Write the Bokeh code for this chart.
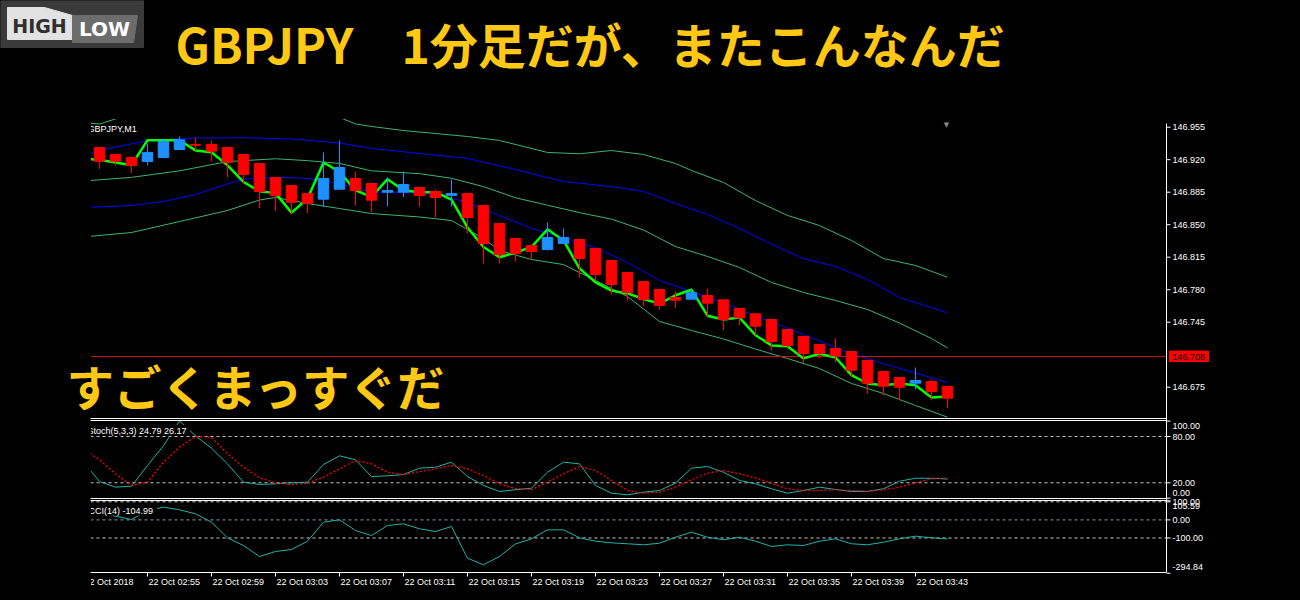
from bokeh.plotting import figure
from bokeh.models import Range1d, ColumnDataSource
from bokeh.core.properties import value
from bokeh.embed import file_html
from bokeh.resources import INLINE

# ------------------------------------------------------------------ data
SYMBOL = "GBPJPY,M1"
TITLE = "GBPJPY\u30001分足だが、またこんなんだ"
CAPTION = "すごくまっすぐだ"

BARS = list(range(54))          # 1-minute bars, 22 Oct 02:52 ... 03:45
IND_X = list(range(-1, 54))     # indicator points (first one lies just off the left edge)

OPEN = [146.9331, 146.9256, 146.9224, 146.9181, 146.9224, 146.9310, 146.9364, 146.9364, 146.9331, 146.9256,
        146.9159, 146.9008, 146.8922, 146.8836, 146.8775, 146.8882, 146.8998, 146.8944, 146.8850, 146.8850,
        146.8901, 146.8858, 146.8815, 146.8836, 146.8707, 146.8513, 146.8351, 146.8276, 146.8233, 146.8298,
        146.8341, 146.8244, 146.8115, 146.7985, 146.7888, 146.7802, 146.7716, 146.7698, 146.7738, 146.7691,
        146.7598, 146.7540, 146.7479, 146.7371, 146.7296, 146.7210, 146.7167, 146.7135, 146.7038, 146.6919,
        146.6855, 146.6793, 146.6811, 146.6758]
HIGH = [146.9331, 146.9256, 146.9224, 146.9371, 146.9425, 146.9450, 146.9439, 146.9407, 146.9331, 146.9256,
        146.9159, 146.9008, 146.8922, 146.8836, 146.9278, 146.9407, 146.9073, 146.8944, 146.9012, 146.9073,
        146.8901, 146.8879, 146.8987, 146.8836, 146.8707, 146.8513, 146.8351, 146.8276, 146.8524, 146.8459,
        146.8341, 146.8244, 146.8115, 146.7985, 146.7888, 146.7802, 146.7781, 146.7813, 146.7813, 146.7691,
        146.7598, 146.7540, 146.7479, 146.7371, 146.7296, 146.7210, 146.7278, 146.7135, 146.7038, 146.6919,
        146.6855, 146.6962, 146.6833, 146.6758]
LOW = [146.9102, 146.9138, 146.9055, 146.9138, 146.9224, 146.9310, 146.9296, 146.9181, 146.9012, 146.8947,
       146.8678, 146.8645, 146.8610, 146.8624, 146.8689, 146.8882, 146.8707, 146.8635, 146.8696, 146.8796,
       146.8696, 146.8578, 146.8696, 146.8405, 146.8082, 146.8082, 146.8104, 146.8125, 146.8222, 146.8298,
       146.7931, 146.7899, 146.7748, 146.7684, 146.7619, 146.7587, 146.7601, 146.7698, 146.7511, 146.7364,
       146.7415, 146.7307, 146.7145, 146.7164, 146.7009, 146.7062, 146.7019, 146.6858, 146.6679, 146.6661,
       146.6607, 146.6725, 146.6610, 146.6524]
CLOSE = [146.9184, 146.9184, 146.9138, 146.9278, 146.9396, 146.9414, 146.9356, 146.9292, 146.9173, 146.9041,
         146.8858, 146.8815, 146.8742, 146.8732, 146.8998, 146.9116, 146.8868, 146.8764, 146.8868, 146.8933,
         146.8815, 146.8793, 146.8836, 146.8578, 146.8298, 146.8179, 146.8190, 146.8211, 146.8362, 146.8362,
         146.8136, 146.7964, 146.7856, 146.7770, 146.7695, 146.7630, 146.7687, 146.7767, 146.7655, 146.7479,
         146.7497, 146.7407, 146.7242, 146.7199, 146.7113, 146.7113, 146.7088, 146.6933, 146.6793, 146.6761,
         146.6750, 146.6822, 146.6704, 146.6632]

# fast lime line (per bar, IND_X)
LIME = [146.921, 146.920, 146.917, 146.914, 146.941, 146.941, 146.941, 146.930, 146.928, 146.914,
        146.896, 146.886, 146.884, 146.863, 146.878, 146.917, 146.907, 146.887, 146.880, 146.899,
        146.887, 146.885, 146.885, 146.877, 146.847, 146.826, 146.815, 146.820, 146.826, 146.845,
        146.833, 146.803, 146.788, 146.779, 146.776, 146.770, 146.765, 146.774, 146.780, 146.752,
        146.748, 146.750, 146.731, 146.720, 146.719, 146.706, 146.711, 146.707, 146.688, 146.679,
        146.677, 146.679, 146.677, 146.664, 146.665]

# band lines, read at selected bars
G1_X = [-1, 0, 3, 8, 13, 15, 16, 17, 19, 21, 23, 25, 28, 30, 32, 34, 36, 37, 39, 41, 43, 45, 47, 49, 51, 53]
G1 = [146.9600, 146.9584, 146.9750, 146.9830, 146.9760, 146.9655, 146.9585, 146.9558, 146.9514, 146.9482,
      146.9450, 146.9407, 146.9278, 146.9264, 146.9299, 146.9256, 146.9159, 146.9084, 146.8955, 146.8760,
      146.8600, 146.8491, 146.8330, 146.8136, 146.8061, 146.7935]
BU_X = [-1, 1, 3, 6, 9, 12, 15, 17, 20, 23, 26, 29, 32, 34, 36, 38, 40, 42, 44, 46, 48, 50, 52, 53]
BU = [146.9256, 146.9335, 146.9407, 146.9434, 146.9436, 146.9423, 146.9380, 146.9321, 146.9267, 146.9213,
      146.9094, 146.8965, 146.8911, 146.8858, 146.8728, 146.8610, 146.8460, 146.8290, 146.8135, 146.8050,
      146.7910, 146.7716, 146.7608, 146.7551]
G2_X = [-1, 2, 5, 8, 11, 13, 15, 17, 20, 22, 24, 26, 28, 30, 32, 34, 36, 38, 40, 42, 44, 46, 48, 50, 52, 53]
G2 = [146.8970, 146.9010, 146.9080, 146.9180, 146.9210, 146.9190, 146.9160, 146.9080, 146.9050, 146.9000,
      146.8910, 146.8790, 146.8710, 146.8630, 146.8560, 146.8443, 146.8265, 146.8158, 146.8039, 146.7878,
      146.7770, 146.7684, 146.7587, 146.7441, 146.7274, 146.7174]
BM_X = [-1, 2, 4, 6, 8, 9, 11, 13, 15, 17, 19, 21, 23, 25, 27, 29, 31, 33, 35, 37, 39, 41, 43, 45, 47, 49, 51, 53]
BM = [146.8685, 146.8707, 146.8750, 146.8825, 146.8940, 146.8990, 146.9010, 146.9000, 146.8940, 146.8850,
      146.8847, 146.8825, 146.8740, 146.8600, 146.8460, 146.8360, 146.8254, 146.8093, 146.7900, 146.7780,
      146.7660, 146.7520, 146.7388, 146.7248, 146.7113, 146.7002, 146.6903, 146.6800]
G3_X = [-1, 2, 5, 8, 10, 11, 13, 15, 17, 20, 22, 24, 25, 27, 29, 31, 33, 35, 37, 39, 41, 43, 45, 47, 49, 51, 53]
G3 = [146.8368, 146.8416, 146.8534, 146.8653, 146.8766, 146.8793, 146.8728, 146.8674, 146.8620, 146.8583,
      146.8545, 146.8351, 146.8222, 146.8125, 146.8071, 146.7899, 146.7727, 146.7458, 146.7361, 146.7269,
      146.7161, 146.7059, 146.6951, 146.6790, 146.6682, 146.6553, 146.6427]

STOCH_K = [47, 21.7, 14.3, 15.6, 42.4, 68, 100, 81, 64.9, 44.6, 20.8, 17.8, 18.7, 20, 20.8, 43.7, 55, 49.8,
           28.1, 29, 30.7, 38.9, 40.2, 46.7, 28.1, 16.5, 8.7, 11, 13, 33.7, 46.7, 44.6, 16.5, 6.5, 4.4, 7.8,
           10, 19.5, 38.9, 41.1, 33.7, 23, 18.7, 12.2, 6.5, 10, 14.3, 11.3, 8.7, 8.7, 12.2, 22, 25.9, 25.9, 24.79]
STOCH_D = [64, 49.8, 31.6, 16.5, 20.8, 46.7, 66.1, 80, 79.1, 57.6, 40.2, 26.5, 20, 17.8, 19.5, 27.2, 38.1,
           48.9, 44.6, 33.7, 30.7, 34.6, 38.1, 42.4, 38.1, 29.4, 18.7, 12.5, 11.3, 20.8, 31.6, 41.1, 35.9, 23,
           10, 6.5, 7.8, 14.3, 23.9, 32.4, 35.9, 31.6, 26.5, 19.5, 12.2, 10, 10, 10.9, 10, 9.1, 10.9, 14.3, 20,
           25.2, 26.17]
CCI = [70, 45, 20.5, 2.2, 52, 70.2, 55.9, 33.7, -12.7, -99, -141.6, -202.4, -174.8, -163.7, -117.8, -12.7,
       0.6, -58.6, -86.3, -31, -21.6, -49.2, -64.2, -36.5, -211.8, -248.3, -202.4, -133, -104.7, -55, -55,
       -99, -117.8, -126.8, -132, -137.7, -128.9, -95.7, -68, -95.7, -110, -95.7, -117.8, -147, -137.7,
       -141.6, -117.8, -104.5, -132, -137.7, -123.3, -104.5, -90, -99, -104.99]

TICK_BARS = [3, 7, 11, 15, 19, 23, 27, 31, 35, 39, 43, 47, 51]
TICK_TEXT = ["22 Oct 02:55", "22 Oct 02:59", "22 Oct 03:03", "22 Oct 03:07", "22 Oct 03:11",
             "22 Oct 03:15", "22 Oct 03:19", "22 Oct 03:23", "22 Oct 03:27", "22 Oct 03:31",
             "22 Oct 03:35", "22 Oct 03:39", "22 Oct 03:43"]
DATE_TEXT = "22 Oct 2018"

PRICE_TICKS = [146.675, 146.745, 146.780, 146.815, 146.850, 146.885, 146.920, 146.955]
PRICE_LINE = 146.708
STOCH_LEVELS = [80, 20]
STOCH_TICKS = [0, 20, 80, 100]
STOCH_TICK_TEXT = ["0.00", "20.00", "80.00", "100.00"]
CCI_LEVELS = [100, 0, -100]
CCI_TICKS = [105.59, 100, 0, -100, -294.84]
CCI_TICK_TEXT = ["105.59", "100.00", "0.00", "-100.00", "-294.84"]
STOCH_LAST = (24.79, 26.17)
CCI_LAST = -104.99

# ------------------------------------------------------------------ layout / style (pixels)
BG = "#000000"
BULL = "#1E90FF"
BEAR = "#FF0000"
LIME_C = "#00FF00"
BAND_G = "#3CB371"
BAND_B = "#0000FF"
IND_C = "#20B2AA"
YELLOW = "#FFC814"
AX_FONT = value("Liberation Sans")
JP_FONT = value("Noto Sans CJK JP")

W, H = 1300, 600
BAR0_PX, BAR_PX = 99.0, 16.0                 # centre of first bar, pixels per bar
PANE_L, AXIS_X = 90, 1166
PRICE_TOP, PRICE_BOT = 118, 418
STOCH_TOP, STOCH_BOT = 420, 498
CCI_TOP, TIME_Y = 500, 572
PRICE_REF, PRICE_REF_PX, PRICE_PPU = 146.955, 126.7, 928.6
STOCH_ZERO_PX, STOCH_PPU = 497.7, 0.771
CCI_ZERO_PX, CCI_PPU = 519.4, 0.1808
# label anchors for the pane-edge labels (MT4 pulls them inside the pane)
STOCH_LABEL_Y = [7.0, 20, 80, 94.0]
CCI_LABEL_Y = [78.0, 101.5, 0, -100, -261.5]

x_range = Range1d(-BAR0_PX / BAR_PX, (W - BAR0_PX) / BAR_PX)
y_price = Range1d(PRICE_REF - (H - PRICE_REF_PX) / PRICE_PPU, PRICE_REF + PRICE_REF_PX / PRICE_PPU)

p = figure(width=W, height=H, x_range=x_range, y_range=y_price,
           toolbar_location=None, output_backend="svg",
           x_axis_location=None, y_axis_location=None,
           background_fill_color=BG, border_fill_color=BG, outline_line_color=None, min_border=0)
p.grid.visible = False
p.extra_x_ranges = {"px": Range1d(0, W)}
p.extra_y_ranges = {
    "px": Range1d(H, 0),
    "stoch": Range1d(-(H - STOCH_ZERO_PX) / STOCH_PPU, STOCH_ZERO_PX / STOCH_PPU),
    "cci": Range1d(-(H - CCI_ZERO_PX) / CCI_PPU, CCI_ZERO_PX / CCI_PPU),
}
PX = dict(x_range_name="px", y_range_name="px")

# ------------------------------------------------------------------ price pane
for xs, ys, c in [(G1_X, G1, BAND_G), (BU_X, BU, BAND_B), (G2_X, G2, BAND_G),
                  (BM_X, BM, BAND_B), (G3_X, G3, BAND_G)]:
    p.line(xs, ys, line_color=c, line_width=1)
p.segment(x0=[PANE_L], x1=[AXIS_X], y0=[PRICE_LINE], y1=[PRICE_LINE], x_range_name="px",
          line_color="#D01414", line_width=1)
p.line(IND_X, LIME, line_color=LIME_C, line_width=2.5)

src = ColumnDataSource(dict(
    x=BARS, h=HIGH, l=LOW,
    top=[max(o, c) for o, c in zip(OPEN, CLOSE)],
    bot=[min(o, c) for o, c in zip(OPEN, CLOSE)],
    color=[BULL if c > o else BEAR for o, c in zip(OPEN, CLOSE)]))
p.segment(x0="x", y0="l", x1="x", y1="h", line_color="color", line_width=1, source=src)
p.vbar(x="x", width=0.66, top="top", bottom="bot", fill_color="color", line_color="color",
       line_width=1, source=src)

# ------------------------------------------------------------------ stochastic pane
p.segment(x0=[PANE_L] * 2, x1=[AXIS_X] * 2, y0=STOCH_LEVELS, y1=STOCH_LEVELS,
          x_range_name="px", y_range_name="stoch", line_color="#C8C8C8", line_width=1, line_dash="3 3")
p.line(IND_X, STOCH_K, y_range_name="stoch", line_color=IND_C, line_width=1)
p.line(IND_X, STOCH_D, y_range_name="stoch", line_color="#FF0000", line_width=1.3, line_dash="2 2")

# ------------------------------------------------------------------ CCI pane
p.segment(x0=[PANE_L] * 3, x1=[AXIS_X] * 3, y0=CCI_LEVELS, y1=CCI_LEVELS,
          x_range_name="px", y_range_name="cci",
          line_color=["#C8C8C8", "#8C96AA", "#C8C8C8"], line_width=1, line_dash="3 3")
p.line(IND_X, CCI, y_range_name="cci", line_color=IND_C, line_width=1)

# indicator captions (drawn on a black box, clipped at the pane edge like MT4)
p.quad(left=[87, 87], right=[189, 156], top=[425, 505.5], bottom=[434.5, 514.5], color=BG, **PX)
p.text(x=[87, 88, 87], y=[430, 510, 128.5],
       text=["Stoch(5,3,3) %.2f %.2f" % STOCH_LAST, "CCI(14) %.2f" % CCI_LAST, SYMBOL],
       text_font=AX_FONT, text_font_size="9px", text_color="white",
       text_align="left", text_baseline="middle", **PX)
p.text(x=[84], y=[581.5], text=[DATE_TEXT], text_font=AX_FONT, text_font_size="9px",
       text_color="white", text_align="left", text_baseline="middle", **PX)

# masks outside the chart window
p.quad(left=[0, 0], right=[PANE_L, W], top=[PRICE_TOP, 0], bottom=[H, PRICE_TOP], color=BG, **PX)

# ------------------------------------------------------------------ frames and axes
p.segment(x0=[PANE_L] * 4, x1=[AXIS_X] * 4,
          y0=[PRICE_BOT, STOCH_TOP, STOCH_BOT, CCI_TOP], y1=[PRICE_BOT, STOCH_TOP, STOCH_BOT, CCI_TOP],
          line_color="white", line_width=1, **PX)
p.segment(x0=[PANE_L, AXIS_X], x1=[AXIS_X, AXIS_X], y0=[TIME_Y, 123], y1=[TIME_Y, TIME_Y],
          line_color="white", line_width=1, **PX)

# price axis
p.segment(x0=[AXIS_X] * len(PRICE_TICKS), x1=[AXIS_X + 4] * len(PRICE_TICKS), y0=PRICE_TICKS, y1=PRICE_TICKS,
          x_range_name="px", line_color="white", line_width=1)
p.text(x=[1172] * len(PRICE_TICKS), y=PRICE_TICKS, text=["%.3f" % v for v in PRICE_TICKS],
       x_range_name="px", text_font=AX_FONT, text_font_size="9px", text_color="white",
       text_align="left", text_baseline="middle")
p.quad(left=[1169], right=[1208], top=[350.5], bottom=[361], color="#FF0000", **PX)
p.text(x=[1172], y=[PRICE_LINE], text=["%.3f" % PRICE_LINE], x_range_name="px",
       text_font=AX_FONT, text_font_size="9px", text_color="black",
       text_align="left", text_baseline="middle")
p.text(x=[946], y=[124], text=["\u25BC"], text_font=value("DejaVu Sans"), text_font_size="7px",
       text_color="#8a8a8a", text_align="center", text_baseline="middle", **PX)

# stochastic axis
p.segment(x0=[AXIS_X] * 4, x1=[AXIS_X + 4] * 4, y0=STOCH_TICKS, y1=STOCH_TICKS,
          x_range_name="px", y_range_name="stoch", line_color="white", line_width=1)
p.text(x=[1172] * 4, y=STOCH_LABEL_Y, text=STOCH_TICK_TEXT, x_range_name="px", y_range_name="stoch",
       text_font=AX_FONT, text_font_size="9px", text_color="white",
       text_align="left", text_baseline="middle")

# CCI axis
p.segment(x0=[AXIS_X] * 5, x1=[AXIS_X + 4] * 5, y0=CCI_TICKS, y1=CCI_TICKS,
          x_range_name="px", y_range_name="cci", line_color="white", line_width=1)
p.text(x=[1172] * 5, y=CCI_LABEL_Y, text=CCI_TICK_TEXT, x_range_name="px", y_range_name="cci",
       text_font=AX_FONT, text_font_size="9px", text_color="white",
       text_align="left", text_baseline="middle")

# time axis
p.segment(x0=TICK_BARS, x1=TICK_BARS, y0=[TIME_Y] * len(TICK_BARS), y1=[TIME_Y + 4] * len(TICK_BARS),
          y_range_name="px", line_color="white", line_width=1)
p.text(x=TICK_BARS, y=[581.5] * len(TICK_BARS), text=TICK_TEXT, x_offset=1, y_range_name="px",
       text_font=AX_FONT, text_font_size="9px", text_color="white",
       text_align="left", text_baseline="middle")

# ------------------------------------------------------------------ logo, title, caption
p.quad(left=[0], right=[143], top=[0], bottom=[47], color="#3a3a3a", **PX)
p.patch(x=[7, 44, 72, 72, 7], y=[7, 7, 15, 39, 39], color="#e2e2e2", **PX)
p.patch(x=[72, 137, 133, 72], y=[15, 15, 42, 42], color="#6c6c6c", **PX)
p.text(x=[39], y=[25], text=["HIGH"], text_font=value("DejaVu Sans"), text_font_style="bold",
       text_font_size="19px", text_color="#2e2e2e", text_align="center", text_baseline="middle", **PX)
p.text(x=[104], y=[28], text=["LOW"], text_font=value("DejaVu Sans"), text_font_style="bold",
       text_font_size="20px", text_color="#ffffff", text_align="center", text_baseline="middle", **PX)
p.text(x=[175], y=[42], text=[TITLE], text_font=JP_FONT, text_font_style="bold",
       text_font_size="48px", text_color=YELLOW, text_align="left", text_baseline="middle", **PX)
p.text(x=[66], y=[384.5], text=[CAPTION], text_font=JP_FONT, text_font_style="bold",
       text_font_size="47.5px", text_color=YELLOW, text_align="left", text_baseline="middle", **PX)

html = file_html(p, INLINE)
html = html.replace("<head>", "<head><style>html,body{background:#000000;}</style>", 1)
open("out.html", "w").write(html)
